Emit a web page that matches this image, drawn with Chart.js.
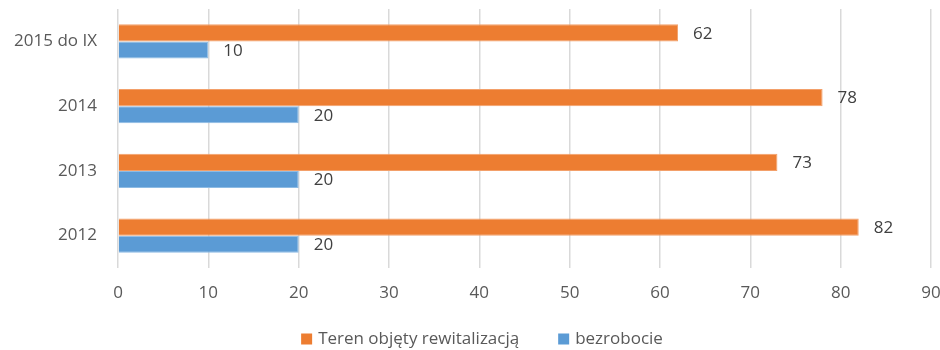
<!DOCTYPE html>
<html>
<head>
<meta charset="utf-8">
<script src="https://cdn.jsdelivr.net/npm/chart.js@4"></script>
<style>
  html, body { margin: 0; padding: 0; background: #fff; }
  #wrap { width: 940px; height: 350px; }
</style>
</head>
<body>
<div id="wrap"><canvas id="barChart"></canvas></div>
<script>
  // data
  const categories = ['2015 do IX', '2014', '2013', '2012'];
  const terenValues = [62, 78, 73, 82];
  const bezrobocieValues = [10, 20, 20, 20];
  const seriesNames = ['Teren objęty rewitalizacją', 'bezrobocie'];
  const xTicks = [0, 10, 20, 30, 40, 50, 60, 70, 80, 90];

  const FONT = '"Open Sans", "DejaVu Sans", sans-serif';
  const ORANGE = '#ED7D31';
  const BLUE = '#5B9BD5';

  // drop the extra room Chart.js keeps for edge tick labels
  function noEdgePadding(scale) {
    scale.paddingTop = 0;
    scale.paddingBottom = 0;
    scale.paddingLeft = 0;
    scale.paddingRight = 0;
  }

  // value labels at the end of each bar
  const valueLabels = {
    id: 'valueLabels',
    afterDatasetsDraw(chart) {
      const ctx = chart.ctx;
      ctx.save();
      ctx.font = '17px ' + FONT;
      ctx.fillStyle = '#404040';
      ctx.textAlign = 'left';
      ctx.textBaseline = 'middle';
      chart.data.datasets.forEach((ds, i) => {
        chart.getDatasetMeta(i).data.forEach((bar, j) => {
          ctx.fillText(String(ds.data[j]), bar.x + 15, bar.y + 1);
        });
      });
      ctx.restore();
    }
  };

  // legend drawn under the axis
  const bottomLegend = {
    id: 'bottomLegend',
    afterDraw(chart) {
      const ctx = chart.ctx;
      const box = 11, gap = 6, itemGap = 39;
      ctx.save();
      ctx.font = '17px ' + FONT;
      ctx.textBaseline = 'middle';
      ctx.textAlign = 'left';
      const items = chart.data.datasets.map(ds => ({
        text: ds.label, color: ds.backgroundColor, w: ctx.measureText(ds.label).width
      }));
      let total = 0;
      items.forEach((it, i) => { total += box + gap + it.w + (i ? itemGap : 0); });
      let x = chart.width / 2 + 12 - total / 2;
      const y = 339;
      items.forEach(it => {
        ctx.fillStyle = it.color;
        ctx.fillRect(x, y - box / 2, box, box);
        ctx.fillStyle = '#595959';
        ctx.fillText(it.text, x + box + gap, y);
        x += box + gap + it.w + itemGap;
      });
      ctx.restore();
    }
  };

  const ctx = document.getElementById('barChart').getContext('2d');
  const barChart = new Chart(ctx, {
    type: 'bar',
    data: {
      labels: categories,
      datasets: [
        {
          label: seriesNames[0],
          data: terenValues,
          backgroundColor: ORANGE,
          borderColor: '#F3A06A',
          borderWidth: 1
        },
        {
          label: seriesNames[1],
          data: bezrobocieValues,
          backgroundColor: BLUE,
          borderColor: '#8DBBE4',
          borderWidth: 1
        }
      ]
    },
    options: {
      indexAxis: 'y',
      responsive: true,
      maintainAspectRatio: false,
      animation: false,
      layout: { padding: { top: 9, bottom: 40, left: 0, right: 9 } },
      datasets: {
        bar: { barPercentage: 1, categoryPercentage: 0.53 }
      },
      scales: {
        x: {
          min: 0,
          max: 90,
          afterBuildTicks(scale) {
            scale.ticks = xTicks.map(v => ({ value: v }));
          },
          afterFit(scale) {
            scale.height = 42;
            noEdgePadding(scale);
          },
          grid: { color: '#D9D9D9', lineWidth: 1.5, drawTicks: false },
          border: { display: false },
          ticks: {
            padding: 15,
            color: '#595959',
            font: { family: FONT, size: 17 }
          }
        },
        y: {
          afterFit(scale) {
            scale.width = 118;
            noEdgePadding(scale);
          },
          grid: { display: false, drawTicks: false },
          border: { display: false },
          ticks: {
            padding: 21,
            color: '#595959',
            font: { family: FONT, size: 17 }
          }
        }
      },
      plugins: {
        legend: { display: false },
        tooltip: { enabled: false }
      }
    },
    plugins: [valueLabels, bottomLegend]
  });
</script>
</body>
</html>
